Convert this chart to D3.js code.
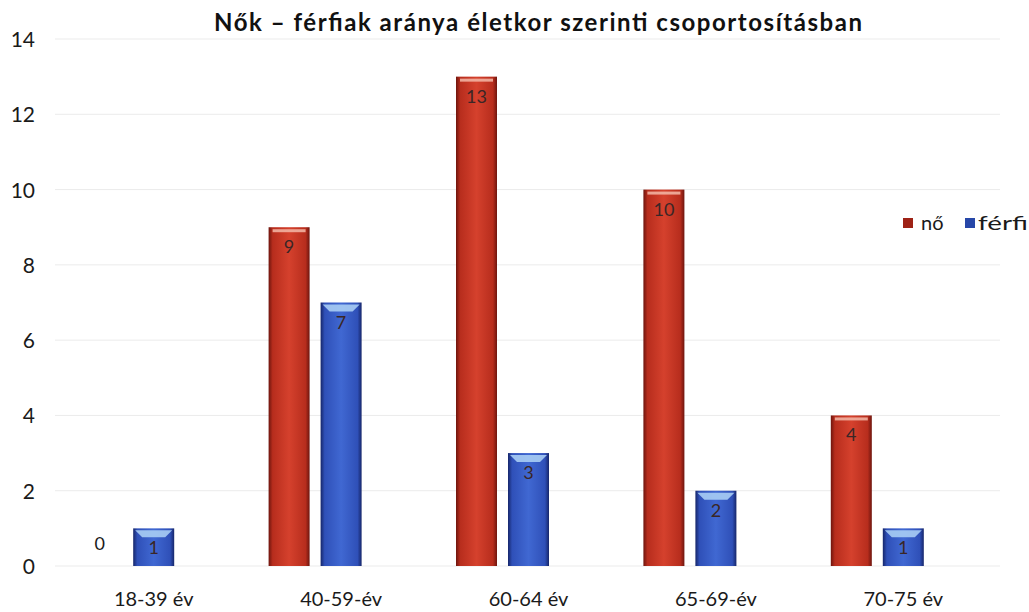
<!DOCTYPE html>
<html>
<head>
<meta charset="utf-8">
<script src="https://cdn.jsdelivr.net/npm/d3@7"></script>
<style>
  html, body { margin: 0; padding: 0; background: #fff; overflow: hidden; }
  svg { display: block; }
</style>
</head>
<body>
<svg id="chart" width="1029" height="612"></svg>
<script>
// Age groups and head counts by sex
const categories = ["18-39 év", "40-59-év", "60-64 év", "65-69-év", "70-75 év"];
const women = [0, 9, 13, 10, 4];
const men = [1, 7, 3, 2, 1];
const yTicks = [0, 2, 4, 6, 8, 10, 12, 14];
const seriesNames = ["nő", "férfi"];

const svg = d3.select("#chart");
const font = "Lato, 'Open Sans', sans-serif";

const x = d3.scaleBand().domain(categories).range([60, 997]);
const y = d3.scaleLinear().domain([0, 14]).range([566, 39]);
const barW = 41, barGap = 11, groupShift = -26;

// Gradients for the bevelled bars
const defs = svg.append("defs");
function grad(id, stops) {
  const g = defs.append("linearGradient").attr("id", id).attr("x1", 0).attr("x2", 1).attr("y1", 0).attr("y2", 0);
  stops.forEach(([o, c]) => g.append("stop").attr("offset", o).attr("stop-color", c));
}
grad("gRed", [["0", "#6e150e"], ["0.1", "#b72d1d"], ["0.5", "#d5412d"], ["0.9", "#b72d1d"], ["1", "#6e150e"]]);
grad("gBlue", [["0", "#16266a"], ["0.1", "#2f50b8"], ["0.5", "#4068d2"], ["0.9", "#2f50b8"], ["1", "#16266a"]]);

// Gridlines
svg.append("g").selectAll("line").data(yTicks).join("line")
  .attr("x1", 55).attr("x2", 1000)
  .attr("y1", d => y(d)).attr("y2", d => y(d))
  .attr("stroke", "#ebebeb").attr("stroke-width", 1);

// Y axis labels
svg.append("g").selectAll("text").data(yTicks).join("text")
  .attr("x", 35).attr("y", d => y(d) + 8)
  .attr("text-anchor", "end")
  .attr("font-family", font).attr("font-size", 21).attr("fill", "#1a1a1a")
  .text(d => d);

// Category labels
svg.append("g").selectAll("text").data(categories).join("text")
  .attr("x", d => x(d) + x.bandwidth() / 2).attr("y", 606)
  .attr("text-anchor", "middle")
  .attr("font-family", font).attr("font-size", 20).attr("fill", "#1a1a1a")
  .text(d => d);

const series = [
  { name: seriesNames[0], values: women, fill: "url(#gRed)", top: "#f3b9a8", offset: -(barW + barGap) / 2 },
  { name: seriesNames[1], values: men, fill: "url(#gBlue)", top: "#a9cdf4", offset: (barW + barGap) / 2 }
];

series.forEach(s => {
  const g = svg.append("g");
  const data = categories.map((c, i) => ({ c, v: s.values[i] }));
  const cx = d => x(d.c) + x.bandwidth() / 2 + groupShift + s.offset;
  const bars = data.filter(d => d.v > 0);
  g.selectAll("rect.bar").data(bars).join("rect").attr("class", "bar")
    .attr("x", d => cx(d) - barW / 2).attr("width", barW)
    .attr("y", d => y(d.v)).attr("height", d => y(0) - y(d.v))
    .attr("fill", s.fill);
  if (s.name === "férfi") {
    // light bevel wedge at the top of the blue bars
    g.selectAll("path.bevel").data(bars).join("path").attr("class", "bevel")
      .attr("d", d => {
        const l = cx(d) - barW / 2, r = cx(d) + barW / 2, t = y(d.v);
        return `M${l + 2},${t + 2}L${r - 2},${t + 2}L${r - 9},${t + 9}L${l + 9},${t + 9}Z`;
      })
      .attr("fill", s.top).attr("opacity", 0.9);
  } else {
    g.selectAll("rect.hl").data(bars).join("rect").attr("class", "hl")
      .attr("x", d => cx(d) - barW / 2 + 4).attr("width", barW - 8)
      .attr("y", d => y(d.v) + 2).attr("height", 3)
      .attr("fill", s.top).attr("opacity", 0.85);
  }
  // value labels
  g.selectAll("text").data(data).join("text")
    .attr("x", d => d.v > 0 ? cx(d) : cx(d) - 2)
    .attr("y", d => d.v > 0 ? y(d.v) + 26 : y(0) - 16)
    .attr("text-anchor", "middle")
    .attr("font-family", font).attr("font-size", 18)
    .attr("fill", d => d.v > 0 ? "#3a2626" : "#1a1a1a")
    .text(d => d.v);
});

// Legend (runs past the right edge)
const legend = svg.append("g").attr("transform", "translate(903,218)");
legend.append("rect").attr("x", 0).attr("y", 0).attr("width", 10).attr("height", 10).attr("fill", "#9e2216");
legend.append("text").attr("x", 18).attr("y", 12).attr("font-family", font).attr("font-size", 20).attr("fill", "#1a1a1a").text(seriesNames[0]);
legend.append("rect").attr("x", 62).attr("y", 0).attr("width", 10).attr("height", 10).attr("fill", "#2747a8");
legend.append("text").attr("x", 75).attr("y", 12).attr("font-family", font).attr("font-size", 20).attr("fill", "#1a1a1a")
  .attr("textLength", 50).attr("lengthAdjust", "spacingAndGlyphs").text(seriesNames[1]);

// Title
svg.append("text").attr("x", 538).attr("y", 31).attr("text-anchor", "middle")
  .attr("font-family", font).attr("font-weight", "bold").attr("font-size", 24).attr("fill", "#111")
  .attr("textLength", 648).attr("lengthAdjust", "spacing")
  .text("Nők – férfiak aránya életkor szerinti csoportosításban");
</script>
</body>
</html>
